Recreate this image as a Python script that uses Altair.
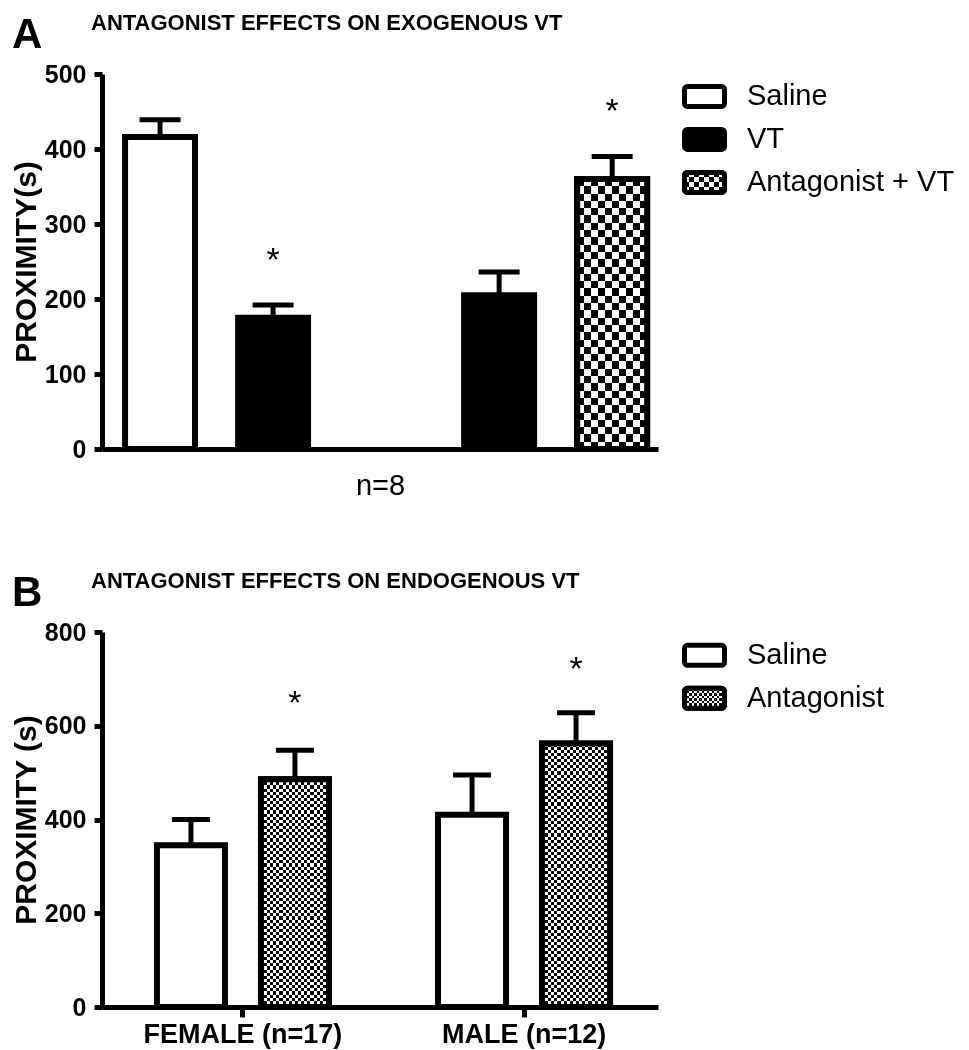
import altair as alt
import pandas as pd

FONT = "Liberation Sans"

# ---------------- Panel A data ----------------
a_slots = ["s1", "s2", "s3", "s4", "s5"]          # s3 is the empty gap
a_slot = ["s1", "s2", "s4", "s5"]
a_treat = ["Saline", "VT", "VT", "Antagonist + VT"]
a_mean = [416, 175, 205, 360]
a_err = [439, 192, 236, 390]
a_star = [None, 256, None, 455]
a_ticks = [0, 100, 200, 300, 400, 500]
a_legend = ["Saline", "VT", "Antagonist + VT"]

# ---------------- Panel B data ----------------
b_groups = ["FEMALE (n=17)", "MALE (n=12)"]
b_group = ["FEMALE (n=17)", "FEMALE (n=17)", "MALE (n=12)", "MALE (n=12)"]
b_treat = ["Saline", "Antagonist", "Saline", "Antagonist"]
b_mean = [345, 486, 410, 562]
b_err = [400, 548, 495, 628]
b_star = [None, 655, None, 727]
b_ticks = [0, 200, 400, 600, 800]
b_legend = ["Saline", "Antagonist"]

W, H = 556, 375
A_MAX, B_MAX = 500, 800


def stripes(n, horizontal):
    stops = []
    for i in range(n):
        c = "black" if i % 2 == 0 else "white"
        stops.append(alt.GradientStop(color=c, offset=i / n))
        stops.append(alt.GradientStop(color=c, offset=(i + 1) / n))
    if horizontal:
        return alt.LinearGradient(gradient="linear", stops=stops, x1=0, x2=0, y1=0, y2=1)
    return alt.LinearGradient(gradient="linear", stops=stops, x1=0, x2=1, y1=0, y2=0)


def checker_layers(base, enc, cols, rows, **kw):
    l1 = base.mark_bar(fill=stripes(cols, False), strokeWidth=0, **kw).encode(**enc)
    l2 = base.mark_bar(fill=stripes(rows, True), strokeWidth=0, blend="difference", **kw).encode(**enc)
    return [l1, l2]


def title_layers(letter, text):
    t1 = alt.Chart(pd.DataFrame({"t": [letter]})).mark_text(
        align="left", baseline="alphabetic", fontSize=42, fontWeight="bold", font=FONT, color="black"
    ).encode(text="t:N", x=alt.value(-90), y=alt.value(-26))
    t2 = alt.Chart(pd.DataFrame({"t": [text]})).mark_text(
        align="left", baseline="alphabetic", fontSize=22, fontWeight="bold", font=FONT, color="black"
    ).encode(text="t:N", x=alt.value(-11), y=alt.value(-44))
    return [t1, t2]


# ---------------- Panel A ----------------
dfA = pd.DataFrame({"slot": a_slot, "treat": a_treat, "mean": a_mean, "err": a_err, "star": a_star})
xA = alt.X("slot:N", scale=alt.Scale(domain=a_slots, paddingInner=0.381, paddingOuter=0.15, align=0.68),
           axis=alt.Axis(labels=False, ticks=False, title="n=8", titleFontWeight="normal",
                         titleFontSize=29, titlePadding=22))


def yA(field):
    return alt.Y(f"{field}:Q", scale=alt.Scale(domain=[0, A_MAX], nice=False),
                 axis=alt.Axis(values=a_ticks, title="PROXIMITY(s)", titlePadding=3))


baseA = alt.Chart(dfA)
encA = dict(x=xA, y=yA("mean"))
layersA = [
    baseA.mark_rule(strokeWidth=5, color="black").encode(x=xA, y=yA("mean"), y2="err:Q"),
    baseA.mark_tick(size=41, thickness=5, color="black", opacity=1).encode(x=xA, y=yA("err")),
    baseA.mark_bar(stroke="black", strokeWidth=6).encode(
        x=xA, y=yA("mean"),
        fill=alt.Fill("treat:N", scale=alt.Scale(domain=a_legend, range=["white", "black", "white"]), legend=None)),
]
pat = baseA.transform_filter(alt.datum.treat == "Antagonist + VT")
rowsA = round(360 / A_MAX * H / 7.3)
layersA += checker_layers(pat, encA, 10, rowsA)
layersA.append(pat.mark_bar(fill="transparent", stroke="black", strokeWidth=6).encode(**encA))
layersA.append(baseA.transform_filter("isValid(datum.star)").mark_text(
    text="*", fontSize=34, dy=14, baseline="alphabetic", font=FONT, color="black").encode(x=xA, y=yA("star")))
layersA += title_layers("A", "ANTAGONIST EFFECTS ON EXOGENOUS VT")
panelA = alt.layer(*layersA).properties(width=W, height=H)


# ---------------- Legends ----------------
def legend_chart(entries, fills, align, cell_spec):
    n = len(entries)
    height = round(43 * (n - 0.5349 + 1.0))
    df = pd.DataFrame({"entry": entries})
    y = alt.Y("entry:N", sort=entries, axis=None,
              scale=alt.Scale(domain=entries, paddingInner=0.5349, paddingOuter=0.5, align=align))
    base = alt.Chart(df)
    enc = dict(y=y, x=alt.value(2.5), x2=alt.value(42.5))
    layers = [base.mark_rect(stroke="black", strokeWidth=5, cornerRadius=3).encode(
        fill=alt.Fill("entry:N", scale=alt.Scale(domain=entries, range=fills), legend=None), **enc)]
    for name, cols, rows in cell_spec:
        sub = base.transform_filter(alt.datum.entry == name)
        layers.append(sub.mark_rect(fill=stripes(cols, False), strokeWidth=0).encode(**enc))
        layers.append(sub.mark_rect(fill=stripes(rows, True), strokeWidth=0, blend="difference").encode(**enc))
        layers.append(sub.mark_rect(fill="transparent", stroke="black", strokeWidth=5, cornerRadius=3).encode(**enc))
    layers.append(base.mark_text(align="left", baseline="middle", fontSize=29, font=FONT, color="black").encode(
        y=y, x=alt.value(65), text="entry:N"))
    return alt.layer(*layers).properties(width=200, height=height)


legA = legend_chart(a_legend, ["white", "black", "white"], 0.29, [("Antagonist + VT", 8, 4)])
legB = legend_chart(b_legend, ["white", "white"], 0.31, [("Antagonist", 16, 8)])

# ---------------- Panel B ----------------
dfB = pd.DataFrame({"group": b_group, "treat": b_treat, "mean": b_mean, "err": b_err, "star": b_star})
xB = alt.X("group:N", scale=alt.Scale(domain=b_groups, paddingInner=0.388, paddingOuter=0.183, align=0.534),
           axis=alt.Axis(title=None, labelFontSize=27, tickSize=10, labelPadding=4,
                         labelAngle=0, labelLimit=0))
xoB = alt.XOffset("treat:N", scale=alt.Scale(domain=b_legend, paddingInner=0.346, paddingOuter=0))


def yB(field):
    return alt.Y(f"{field}:Q", scale=alt.Scale(domain=[0, B_MAX], nice=False),
                 axis=alt.Axis(values=b_ticks, title="PROXIMITY (s)", titlePadding=3))


baseB = alt.Chart(dfB)
encB = dict(x=xB, xOffset=xoB, y=yB("mean"))
layersB = [
    baseB.mark_rule(strokeWidth=5, color="black").encode(x=xB, xOffset=xoB, y=yB("mean"), y2="err:Q"),
    baseB.mark_tick(size=38, thickness=5, color="black", opacity=1).encode(x=xB, xOffset=xoB, y=yB("err")),
    baseB.mark_bar(stroke="black", strokeWidth=6, fill="white").encode(**encB),
]
for grp, tr, val in zip(b_group, b_treat, b_mean):
    if tr != "Antagonist":
        continue
    sub = baseB.transform_filter((alt.datum.group == grp) & (alt.datum.treat == tr))
    layersB += checker_layers(sub, encB, 22, round(val / B_MAX * H / 3.1))
    layersB.append(sub.mark_bar(fill="transparent", stroke="black", strokeWidth=6).encode(**encB))
layersB.append(baseB.transform_filter("isValid(datum.star)").mark_text(
    text="*", fontSize=34, dy=14, baseline="alphabetic", font=FONT, color="black").encode(
    x=xB, xOffset=xoB, y=yB("star")))
layersB += title_layers("B", "ANTAGONIST EFFECTS ON ENDOGENOUS VT")
panelB = alt.layer(*layersB).properties(width=W, height=H)

rowA = alt.hconcat(panelA, legA, spacing=24)
rowB = alt.hconcat(panelB, legB, spacing=24)

chart = alt.vconcat(rowA, rowB, spacing=70).properties(
    padding={"left": 3, "top": 4, "right": 2, "bottom": 2}
).configure_view(stroke=None).configure_axis(
    domainColor="black", domainWidth=5, tickColor="black", tickWidth=5, tickSize=8,
    labelFont=FONT, labelFontSize=25, labelFontWeight="bold", labelColor="black", labelPadding=8,
    titleFont=FONT, titleFontSize=30, titleFontWeight="bold", titleColor="black", grid=False,
)

chart.save("out.html", embed_options={"renderer": "svg", "actions": False})
